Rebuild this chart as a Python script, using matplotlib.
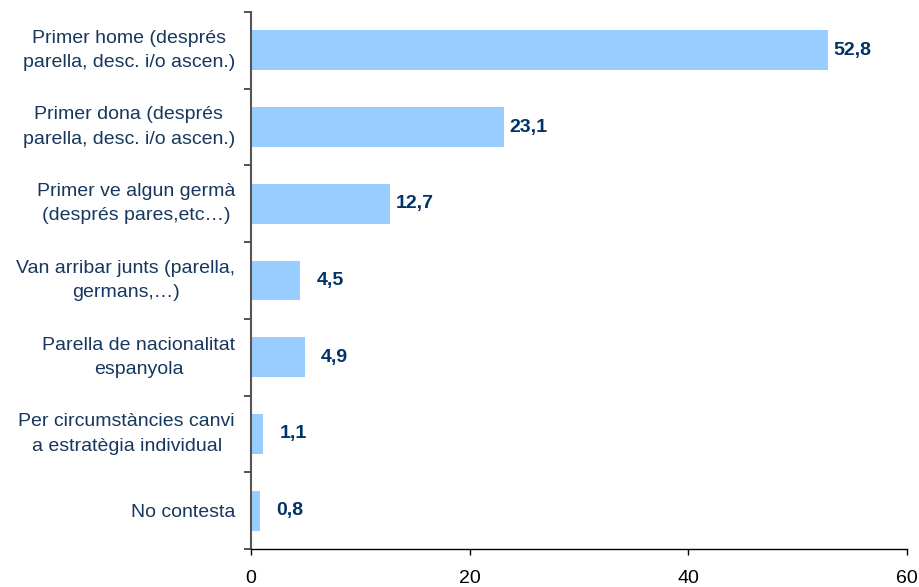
import matplotlib.pyplot as plt
import numpy as np

plt.rcParams['font.family'] = ['Liberation Sans', 'DejaVu Sans']

categories = [
    'Primer home (després\nparella, desc. i/o ascen.)',
    'Primer dona (després\nparella, desc. i/o ascen.)',
    'Primer ve algun germà\n(després pares,etc…)',
    'Van arribar junts (parella,\ngermans,…)',
    'Parella de nacionalitat\nespanyola',
    'Per circumstàncies canvi\na estratègia individual',
    'No contesta',
]
values = [52.8, 23.1, 12.7, 4.5, 4.9, 1.1, 0.8]
x_ticks = [0, 20, 40, 60]

bar_color = '#99CCFF'
label_color = '#17375E'
value_color = '#003366'

fig = plt.figure(figsize=(9.2, 5.87), dpi=100)
ax = fig.add_axes([0.2728, 0.0647, 0.7131, 0.9149])

y = np.arange(len(values))
ax.barh(y, values, height=0.52, color=bar_color)
ax.set_ylim(len(values) - 0.5, -0.5)
ax.set_xlim(0, 60)
ax.set_xticks(x_ticks)
ax.set_xticklabels([str(t) for t in x_ticks], fontsize=14)

ax.set_yticks(y)
ax.set_yticklabels(categories, fontsize=14, color=label_color,
                   multialignment='center', linespacing=1.55)
for t in ax.get_yticklabels():
    if '\n' in t.get_text():
        t.set_va('center')
ax.tick_params(axis='y', length=0, pad=11.5)
# boundary ticks between categories
ax.set_yticks(np.arange(len(values) + 1) - 0.5, minor=True)
ax.tick_params(axis='y', which='minor', length=5, width=1.2, color='#333333')
ax.tick_params(axis='x', length=4, width=1, pad=11)

for s in ['top', 'right']:
    ax.spines[s].set_visible(False)
ax.spines['left'].set_color('#555555')
ax.spines['left'].set_linewidth(1.5)
ax.spines['bottom'].set_linewidth(1)

for yi, v in zip(y, values):
    off = 4 if v > 10 else 12
    ax.annotate(f'{v:.1f}'.replace('.', ','), (v, yi), xytext=(off, 0),
                textcoords='offset points', va='center', ha='left',
                fontsize=14, fontweight='bold', color=value_color)

fig.savefig('out.png', dpi=100)
